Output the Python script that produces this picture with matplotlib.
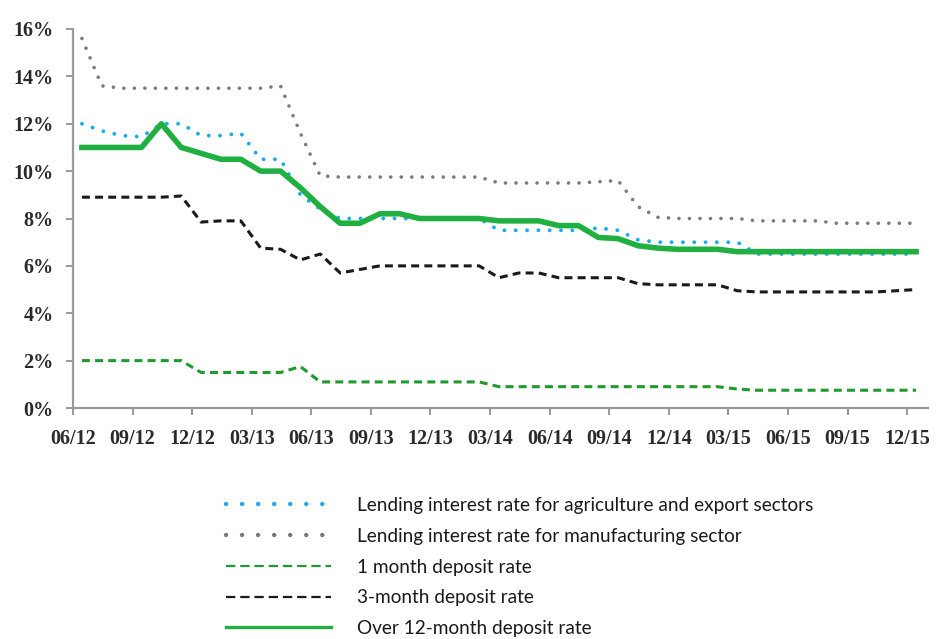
import matplotlib
matplotlib.use('Agg')
import matplotlib.pyplot as plt
from matplotlib.lines import Line2D
import numpy as np

# months since 06/2012 (one point per month, plotted mid-month)
months = np.arange(43)

agri_export = [12.0, 11.7, 11.5, 11.45, 12.0, 12.0, 11.5, 11.5, 11.6, 10.5, 10.5, 9.0, 8.4,
               8.0, 8.0, 8.0, 8.0, 8.0, 8.0, 8.0, 8.0, 7.5, 7.5, 7.5, 7.5, 7.5, 7.6, 7.5,
               7.1, 7.0, 7.0, 7.0, 7.0, 7.0, 6.5, 6.5, 6.5, 6.5, 6.5, 6.5, 6.5, 6.5, 6.5]
manufacturing = [15.6, 13.6, 13.5, 13.5, 13.5, 13.5, 13.5, 13.5, 13.5, 13.5, 13.6, 11.6, 9.8,
                 9.75, 9.75, 9.75, 9.75, 9.75, 9.75, 9.75, 9.75, 9.5, 9.5, 9.5, 9.5, 9.5, 9.55, 9.6,
                 8.5, 8.05, 8.0, 8.0, 8.0, 8.0, 7.9, 7.9, 7.9, 7.9, 7.8, 7.8, 7.8, 7.8, 7.8]
dep_1m = [2.0, 2.0, 2.0, 2.0, 2.0, 2.0, 1.5, 1.5, 1.5, 1.5, 1.5, 1.75, 1.1,
          1.1, 1.1, 1.1, 1.1, 1.1, 1.1, 1.1, 1.1, 0.9, 0.9, 0.9, 0.9, 0.9, 0.9, 0.9,
          0.9, 0.9, 0.9, 0.9, 0.9, 0.8, 0.75, 0.75, 0.75, 0.75, 0.75, 0.75, 0.75, 0.75, 0.75]
dep_3m = [8.9, 8.9, 8.9, 8.9, 8.9, 8.95, 7.85, 7.9, 7.9, 6.75, 6.7, 6.25, 6.5,
          5.7, 5.85, 6.0, 6.0, 6.0, 6.0, 6.0, 6.0, 5.5, 5.7, 5.7, 5.5, 5.5, 5.5, 5.5,
          5.25, 5.2, 5.2, 5.2, 5.2, 4.95, 4.9, 4.9, 4.9, 4.9, 4.9, 4.9, 4.9, 4.95, 5.0]
dep_12m = [11.0, 11.0, 11.0, 11.0, 12.0, 11.0, 10.75, 10.5, 10.5, 10.0, 10.0, 9.3, 8.5,
           7.8, 7.8, 8.2, 8.2, 8.0, 8.0, 8.0, 8.0, 7.9, 7.9, 7.9, 7.7, 7.7, 7.2, 7.15,
           6.85, 6.75, 6.7, 6.7, 6.7, 6.6, 6.6, 6.6, 6.6, 6.6, 6.6, 6.6, 6.6, 6.6, 6.6]

tick_pos = np.arange(0, 43, 3)
tick_labels = ['06/12', '09/12', '12/12', '03/13', '06/13', '09/13', '12/13', '03/14',
               '06/14', '09/14', '12/14', '03/15', '06/15', '09/15', '12/15']
y_ticks = np.arange(0, 17, 2)

labels = ['Lending interest rate for agriculture and export sectors',
          'Lending interest rate for manufacturing sector',
          '1 month deposit rate',
          '3-month deposit rate',
          'Over 12-month deposit rate']

c_blue = '#1cabef'
c_grey = '#7a7a7a'
c_gdash = '#1f9a2e'
c_black = '#1a1a1a'
c_green = '#1fb041'

fig = plt.figure(figsize=(9.42, 6.39), dpi=100)
ax = fig.add_axes([73 / 942, 1 - 408 / 639, (928 - 73) / 942, (408 - 29) / 639])

x = months + 0.45
dots = (0, (0.01, 2.9))
dashes = (0, (2.6, 1.7))

ax.plot(x, manufacturing, color=c_grey, lw=2.6, linestyle=dots, dash_capstyle='round')
ax.plot(x, agri_export, color=c_blue, lw=2.8, linestyle=dots, dash_capstyle='round')
ax.plot(x, dep_3m, color=c_black, lw=2.2, linestyle=dashes)
ax.plot(x, dep_1m, color=c_gdash, lw=2.2, linestyle=dashes)
ax.plot(x, dep_12m, color=c_green, lw=4.0, solid_joinstyle='round')

ax.set_xlim(0, 43.05)
ax.set_ylim(0, 16)
ax.set_xticks(tick_pos)
ax.set_xticklabels(tick_labels)
ax.set_yticks(y_ticks)
ax.set_yticklabels(['%d%%' % v for v in y_ticks])

for s in ['top', 'right']:
    ax.spines[s].set_visible(False)
for s in ['left', 'bottom']:
    ax.spines[s].set_color('#9a9a9a')
    ax.spines[s].set_linewidth(1.6)
ax.tick_params(direction='out', length=5, width=1.4, color='#9a9a9a')
ax.tick_params(axis='x', pad=10)
ax.tick_params(axis='y', pad=9)
for lab in ax.get_xticklabels() + ax.get_yticklabels():
    lab.set_fontfamily('Liberation Serif')
    lab.set_fontweight('bold')
    lab.set_fontsize(14.5)
    lab.set_color('#2a2a2a')

handles = [
    Line2D([], [], color=c_blue, lw=3.2, linestyle=(0, (0.01, 3.6)), dash_capstyle='round'),
    Line2D([], [], color=c_grey, lw=3.2, linestyle=(0, (0.01, 3.6)), dash_capstyle='round'),
    Line2D([], [], color=c_gdash, lw=1.6, linestyle=(0, (4.2, 2.2))),
    Line2D([], [], color=c_black, lw=1.6, linestyle=(0, (4.2, 2.2))),
    Line2D([], [], color=c_green, lw=2.4),
]
leg = fig.legend(handles, labels, loc='upper left', bbox_to_anchor=(209 / 942, 1 - 480 / 639),
                 frameon=False, handlelength=5.5, handletextpad=1.4, labelspacing=0.72,
                 prop={'family': 'Lato', 'size': 13.7})
for t in leg.get_texts():
    t.set_color('#1a1a1a')

fig.savefig('out.png', dpi=100)
